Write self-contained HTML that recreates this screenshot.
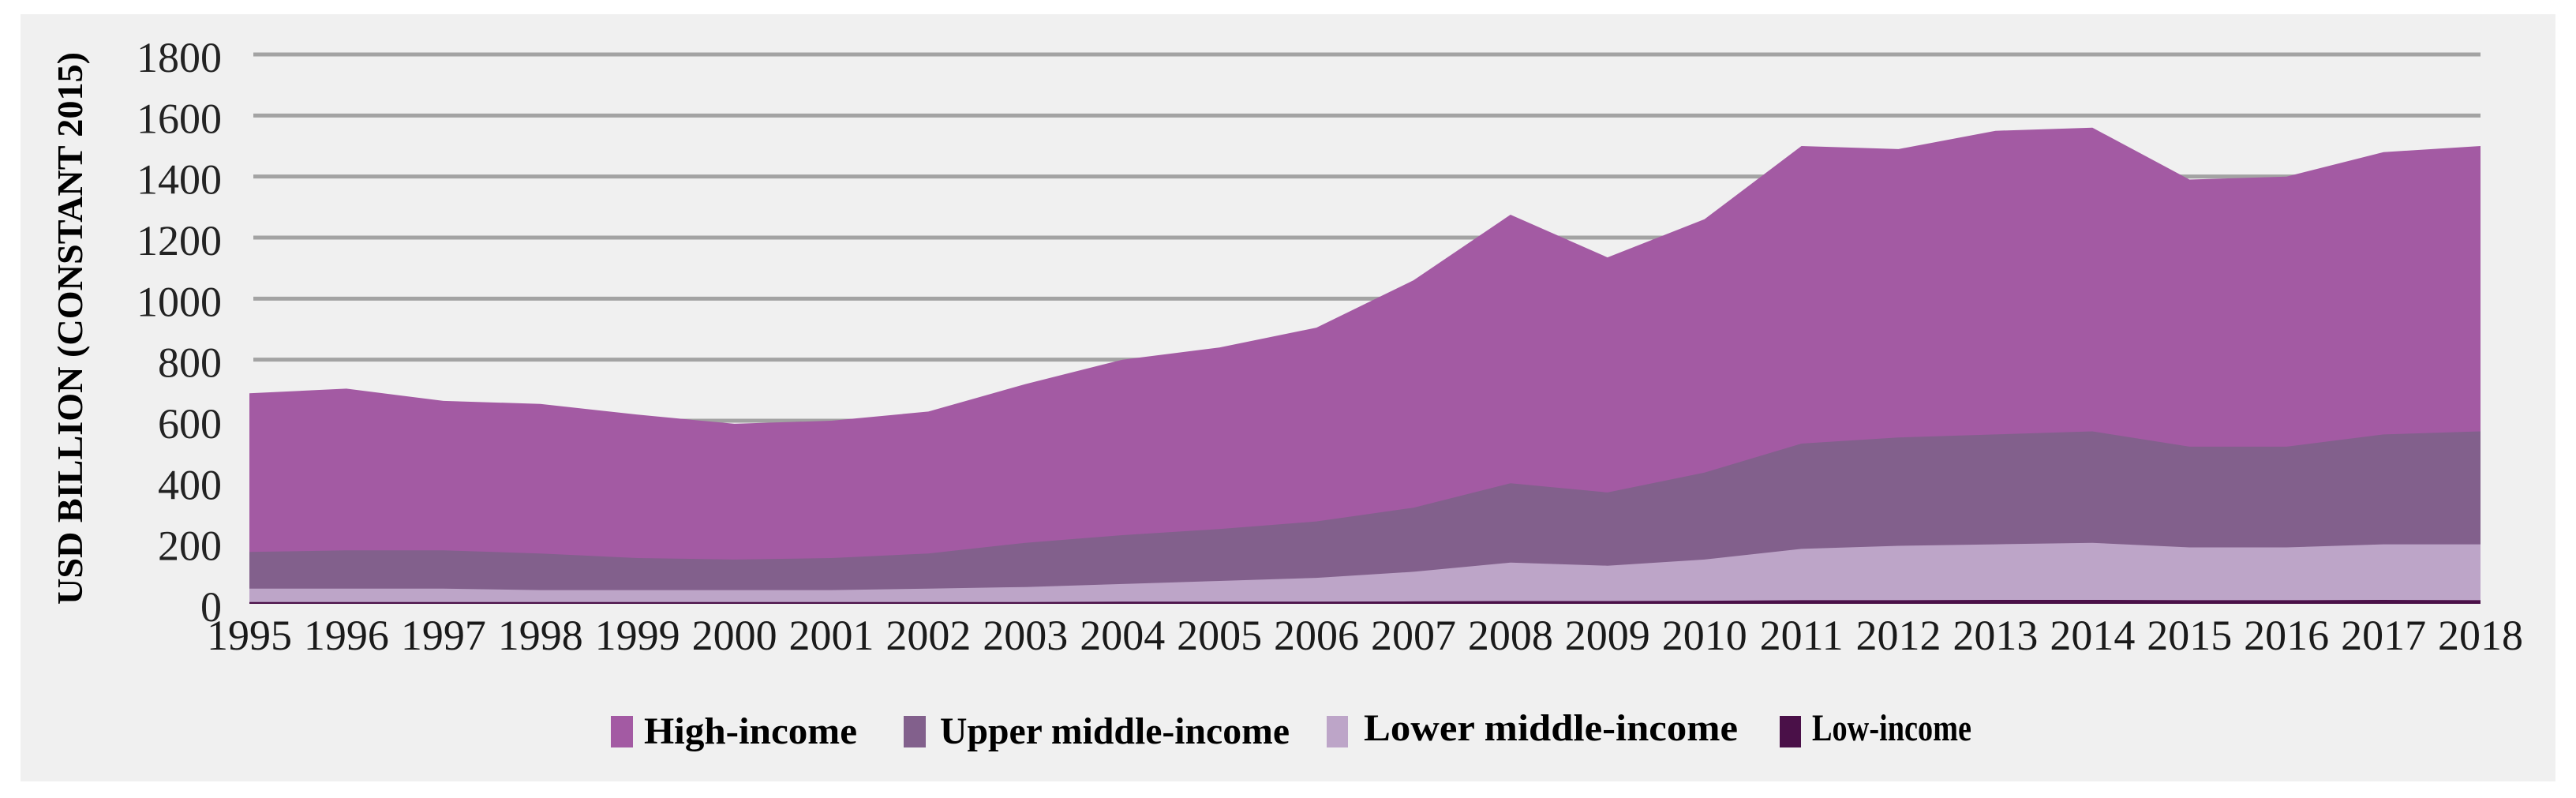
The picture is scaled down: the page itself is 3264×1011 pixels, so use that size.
<!DOCTYPE html>
<html><head><meta charset="utf-8"><style>
html,body{margin:0;padding:0;background:#fff;}
svg{display:block;}
text{font-family:"Liberation Serif",serif;}
</style></head><body>
<svg id="chart" width="3264" height="1011" viewBox="0 0 3264 1011">
<rect x="26" y="18" width="3212" height="972" fill="#f0f0f0"/>
<g id="grid"></g>
<g id="areas"></g>
<g id="yticks"></g>
<g id="xticks"></g>
<text transform="translate(104,416) rotate(-90)" text-anchor="middle" font-size="46" font-weight="bold" textLength="700" lengthAdjust="spacingAndGlyphs">USD BILLION (CONSTANT 2015)</text>
<g>
<g><rect x="774" y="907" width="28" height="40" fill="#a35aa3"/><text x="816" y="942" font-size="48" font-weight="bold" textLength="270" lengthAdjust="spacingAndGlyphs">High-income</text></g>
<g><rect x="1145" y="907" width="28" height="40" fill="#82608c"/><text x="1191" y="942" font-size="48" font-weight="bold" textLength="443" lengthAdjust="spacingAndGlyphs">Upper middle-income</text></g>
<g><rect x="1681" y="907" width="27" height="40" fill="#bda5c8"/><text x="1728" y="938" font-size="48" font-weight="bold" textLength="474" lengthAdjust="spacingAndGlyphs">Lower middle-income</text></g>
<g><rect x="2255" y="907" width="27" height="40" fill="#4a1048"/><text x="2296" y="938" font-size="48" font-weight="bold" textLength="202" lengthAdjust="spacingAndGlyphs">Low-income</text></g>
</g>
</svg>
<script>
const years = ["1995","1996","1997","1998","1999","2000","2001","2002","2003","2004","2005","2006","2007","2008","2009","2010","2011","2012","2013","2014","2015","2016","2017","2018"];
const lowIncome = [6,6,6,6,6,6,6,6,6,7,7,7,8,9,9,10,12,12,13,13,12,12,13,12];
const lowerMiddle = [44,44,44,39,39,39,39,44,49,58,68,78,97,126,116,135,168,178,182,187,173,173,182,183];
const upperMiddle = [120,125,125,120,105,100,105,115,145,160,170,185,210,260,240,285,345,355,360,365,330,330,360,370];
const highIncome = [520,530,490,490,470,445,450,465,520,575,595,635,745,880,770,830,975,945,995,995,875,885,925,935];
const yTicks = [0,200,400,600,800,1000,1200,1400,1600,1800];

const NS = "http://www.w3.org/2000/svg";
const x0 = 316, x1 = 3143, yBase = 765, yTop = 69, yMax = 1800;
function xs(i){ return x0 + i*(x1-x0)/(years.length-1); }
function ys(v){ return yBase - v*(yBase-yTop)/yMax; }
function mk(tag, attrs, parent){ const e = document.createElementNS(NS, tag); for (const k in attrs) e.setAttribute(k, attrs[k]); parent.appendChild(e); return e; }

const grid = document.getElementById('grid');
const yt = document.getElementById('yticks');
yTicks.forEach(v => {
  if (v > 0) {
    const l = mk('line', {x1:321, x2:3143, y1:ys(v), y2:ys(v), stroke:'#a3a3a3', 'stroke-width':5}, grid);
    
    
  }
  const t = mk('text', {x:281, y:ys(v)+22, 'text-anchor':'end', 'font-size':54, fill:'#222'}, yt);
  t.textContent = v;
  
  
});

const series = [
  {name:'low-income', vals:lowIncome, color:'#4a1048'},
  {name:'lower-middle-income', vals:lowerMiddle, color:'#bda5c8'},
  {name:'upper-middle-income', vals:upperMiddle, color:'#82608c'},
  {name:'high-income', vals:highIncome, color:'#a35aa3'}
];
const cum = years.map(() => 0);
const layers = [];
series.forEach(s => {
  const lower = cum.slice();
  s.vals.forEach((v,i) => cum[i] += v);
  layers.push({s, lower, upper: cum.slice()});
});
const areas = document.getElementById('areas');
layers.slice().reverse().forEach(L => {
  let d = '';
  L.upper.forEach((v,i) => { d += (i ? 'L' : 'M') + xs(i).toFixed(1) + ',' + ys(v).toFixed(1); });
  for (let i = years.length-1; i >= 0; i--) d += 'L' + xs(i).toFixed(1) + ',' + ys(0).toFixed(1);
  d += 'Z';
  const p = mk('path', {d, fill:L.s.color}, areas);
  
  
});

const xt = document.getElementById('xticks');
years.forEach((y,i) => {
  const t = mk('text', {x:xs(i), y:823, 'text-anchor':'middle', 'font-size':54, fill:'#1a1a1a'}, xt);
  t.textContent = y;
  
  
});
</script>
</body></html>
